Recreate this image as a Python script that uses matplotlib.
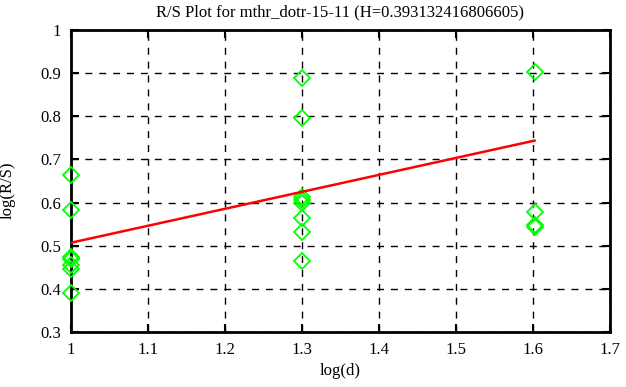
import numpy as np
import matplotlib
matplotlib.use("Agg")
import matplotlib.pyplot as plt

plt.rcParams['font.family'] = ['Liberation Serif', 'DejaVu Serif']

# data
x_vals = [1.0]*7 + [1.3]*8 + [1.602]*4
y_vals = [0.664, 0.583, 0.475, 0.469, 0.455, 0.447, 0.390,
          0.888, 0.796, 0.613, 0.605, 0.599, 0.564, 0.533, 0.464,
          0.902, 0.578, 0.547, 0.543]
H = 0.393132416806605
intercept = 0.507
fit_x = [1.0, 1.602]
xticks = [1, 1.1, 1.2, 1.3, 1.4, 1.5, 1.6, 1.7]
yticks = [0.3, 0.4, 0.5, 0.6, 0.7, 0.8, 0.9, 1]
title = "R/S Plot for mthr_dotr-15-11 (H=0.393132416806605)"

fig = plt.figure(figsize=(6.26, 3.87), dpi=100)
ax = fig.add_axes([0.1134, 0.142, 0.861, 0.7805])

ax.plot(x_vals, y_vals, linestyle='none', marker='D', markersize=8.5,
        markerfacecolor='none', markeredgecolor='#00ff00', markeredgewidth=1.3,
        zorder=3, clip_on=False)
fx = np.array(fit_x)
ax.plot(fx, intercept + H*(fx - 1.0), color='#ff0000', linewidth=1.8, zorder=4)

ax.set_xlim(1, 1.7)
ax.set_ylim(0.3, 1)
ax.set_xticks(xticks)
ax.set_xticklabels([f"{t:g}" for t in xticks])
ax.set_yticks(yticks)
ax.set_yticklabels([f"{t:g}" for t in yticks])
ax.grid(True, color='black', linestyle=(0, (5, 5)), linewidth=1)
ax.set_axisbelow(True)
ax.tick_params(direction='in', length=6, width=1.5, top=True, right=True,
               labelsize=12, pad=7)
for s in ax.spines.values():
    s.set_linewidth(2)
ax.set_title(title, fontsize=12, pad=10)
ax.set_xlabel("log(d)", fontsize=12, labelpad=4)
ax.set_ylabel("log(R/S)", fontsize=12)
ax.yaxis.set_label_coords(-0.102, 0.47)

fig.savefig("out.png", dpi=100)
